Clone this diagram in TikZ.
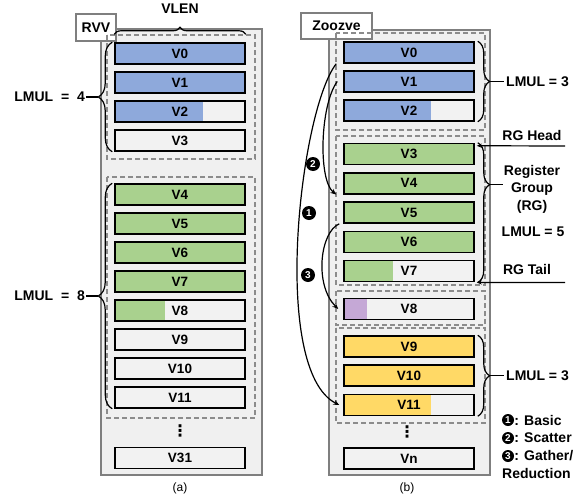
\documentclass[tikz,border=0pt]{standalone}
\usepackage{fontspec}
\setmainfont{Liberation Sans}
\newfontfamily\dotsfont{DejaVu Sans}
\usetikzlibrary{arrows.meta,positioning,decorations.pathreplacing}

\definecolor{panelbg}{HTML}{F0F0F0}
\definecolor{regbg}{HTML}{F2F2F2}
\definecolor{framegray}{HTML}{7F7F7F}
\definecolor{dashgray}{HTML}{8C8C8C}
\definecolor{regblue}{HTML}{8EA9DB}
\definecolor{reggreen}{HTML}{A9D18E}
\definecolor{regyellow}{HTML}{FFD966}
\definecolor{regpurple}{HTML}{C5A8D6}

\newcommand{\regfont}{\fontsize{13.5}{15}\selectfont\bfseries}
\newcommand{\sidefont}{\fontsize{14}{17.5}\selectfont\bfseries}

\begin{document}
\begin{tikzpicture}[
      x=1pt, y=-1pt,
      panel/.style={draw=framegray,line width=1.5pt,fill=panelbg},
      tag/.style={draw=framegray,line width=1.5pt,fill=white,inner sep=0pt,font=\sidefont},
      reg/.style={draw,line width=1.5pt,fill=regbg,minimum width=130pt,minimum height=21pt,inner sep=0pt,font=\regfont},
      part/.style 2 args={path picture={\fill[#1] (path picture bounding box.north west) rectangle ([xshift=#2]path picture bounding box.south west);}},
      grp/.style={draw=dashgray,line width=1.3pt,dash pattern=on 5pt off 3pt},
      brc/.style={decorate,decoration={brace,amplitude=#1},line width=1.2pt},
      side/.style={font=\sidefont,inner sep=1pt},
      vdts/.style={inner sep=0pt,font=\fontsize{16}{16}\selectfont\dotsfont\bfseries},
      num/.style={circle,fill=black,text=white,inner sep=0pt,minimum size=#1,font=\fontsize{10}{10}\selectfont\bfseries},
      hop/.style={line width=1.2pt,-{Stealth[length=6pt,width=5pt]}},
      ptr/.style={line width=1.2pt,-{Stealth[length=5pt,width=4pt]}}
  ]
  \useasboundingbox (0,0) rectangle (576,498);

  % ===================== (a) RVV =====================
  \draw[panel] (101,29) rectangle (262,475);
  \node[tag,minimum width=40pt,minimum height=27pt] (rvv) at (96,27.5) {RVV};

  \node[reg,fill=regblue] (rvv0) at (180,53.5) {V0};
  \node[reg,fill=regblue] (rvv1) at (180,82.5) {V1};
  \node[reg,part={regblue}{88pt}] (rvv2) at (180,111.5) {V2};
  \node[reg] (rvv3) at (180,140.5) {V3};

  \foreach \i/\y in {4/194.5,5/223.5,6/252.5,7/281.5}
    \node[reg,fill=reggreen] (rvv\i) at (180,\y) {V\i};
  \node[reg,part={reggreen}{50pt}] (rvv8) at (180,310.5) {V8};
  \foreach \i/\y in {9/339.5,10/368.5,11/397.5}
    \node[reg] (rvv\i) at (180,\y) {V\i};

  \node[vdts] (dotsa) at (180,431) {⋮};
  \node[reg] (rvv31) at (180,458) {V31};
  \node[font=\fontsize{12}{14}\selectfont] (capa) at (180,488) {(a)};

  % register groups
  \draw[grp] (107,35) rectangle (255,159);
  \draw[grp] (107,177) rectangle (255,418);

  % VLEN
  \node[side] (vlen) at (180,9) {VLEN};
  \draw[brc=7pt] ([yshift=8pt]rvv0.north west) -- ([yshift=8pt]rvv0.north east);

  % LMUL braces
  \draw[brc=14pt] ([xshift=-2pt]rvv3.south west) -- ([xshift=-2pt]rvv0.north west);
  \coordinate (tipa4) at (98,97);
  \node[side,anchor=east] (lmula4) at (86,97) {LMUL\ \ =\ \ 4};
  \draw[line width=1.2pt] (lmula4) -- (tipa4);

  \draw[brc=14pt] ([xshift=-2pt]rvv11.south west) -- ([xshift=-2pt]rvv4.north west);
  \coordinate (tipa8) at (98,296);
  \node[side,anchor=east] (lmula8) at (86,296) {LMUL\ \ =\ \ 8};
  \draw[line width=1.2pt] (lmula8) -- (tipa8);

  % ===================== (b) Zoozve =====================
  \draw[panel] (329,30) rectangle (490,475);
  \node[tag,minimum width=71pt,minimum height=26pt] (zoozve) at (336.5,26) {Zoozve};

  \node[reg,fill=regblue] (zv0) at (409,52.5) {V0};
  \node[reg,fill=regblue] (zv1) at (409,81.5) {V1};
  \node[reg,part={regblue}{87pt}] (zv2) at (409,110.5) {V2};

  \foreach \i/\y in {3/154,4/183.3,5/212.6,6/241.9}
    \node[reg,fill=reggreen] (zv\i) at (409,\y) {V\i};
  \node[reg,part={reggreen}{49pt}] (zv7) at (409,271.2) {V7};

  \node[reg,part={regpurple}{23pt}] (zv8) at (409,309) {V8};

  \node[reg,fill=regyellow] (zv9) at (409,346.5) {V9};
  \node[reg,fill=regyellow] (zv10) at (409,375.5) {V10};
  \node[reg,part={regyellow}{87pt}] (zv11) at (409,405) {V11};

  \node[vdts] (dotsb) at (407,432) {⋮};
  \node[reg] (zvn) at (409,458.5) {Vn};
  \node[font=\fontsize{12}{14}\selectfont] (capb) at (407,488) {(b)};

  % register groups
  \draw[grp] (336,33) rectangle (485,130);
  \draw[grp] (336,136) rectangle (485,285);
  \draw[grp] (336,291) rectangle (485,325);
  \draw[grp] (336,328) rectangle (485,423);

  % LMUL braces (right side)
  \draw[brc=12pt] ([xshift=3pt]zv0.north east) -- ([xshift=3pt]zv2.south east);
  \coordinate (tipb1) at (490,81.3);
  \node[side,anchor=west,inner sep=2pt] (lmulb1) at (504,81.3) {LMUL = 3};
  \draw[line width=1.2pt] (tipb1) -- (lmulb1.west);

  \draw[brc=12pt,decoration={aspect=0.3}] ([xshift=3pt]zv3.north east) -- ([xshift=3pt]zv7.south east);
  \coordinate (tiprg) at (490,184.5);
  \node[side,align=center] (rg) at (532,189) {Register\\Group\\(RG)};
  \draw[line width=1.2pt] (tiprg) -- (tiprg -| rg.west);
  \node[side] (lmulb5) at (533,232) {LMUL = 5};

  \draw[brc=12pt] ([xshift=3pt]zv9.north east) -- ([xshift=3pt]zv11.south east);
  \coordinate (tipb3) at (490,375.8);
  \node[side,anchor=west,inner sep=2pt] (lmulb3) at (504,375.8) {LMUL = 3};
  \draw[line width=1.2pt] (tipb3) -- (lmulb3.west);

  % RG head / tail
  \node[side] (rghead) at (532,135) {RG Head};
  \coordinate (headfrom) at (565,146);
  \draw[ptr] (headfrom) -- ([xshift=2pt,yshift=-3pt]zv3.north east);
  \node[side] (rgtail) at (527,269) {RG Tail};
  \coordinate (tailfrom) at (565,282.5);
  \draw[ptr] (tailfrom) -- ([xshift=2pt]zv7.south east);

  % access patterns
  \draw[hop] ([xshift=-7pt]zv0.south west) .. controls (300,110) and (270,370) .. ([xshift=-4pt]zv11.west);
  \draw[hop] ([xshift=-6pt]zv1.west) .. controls (320,105) and (318,180) .. ([xshift=-7pt]zv4.south west);
  \draw[hop] ([xshift=-4pt]zv5.south west) .. controls (320,232) and (314,285) .. ([xshift=-5pt]zv8.west);
  \node[num=14pt] (hop1) at (309,213) {1};
  \node[num=14pt] (hop2) at (313,164) {2};
  \node[num=14pt] (hop3) at (308,275) {3};

  % legend
  \node[num=12pt] (leg1) at (508,420) {1};
  \node[side,anchor=west,inner sep=0pt] (leg1txt) at (leg1.east) {: Basic};
  \node[num=12pt] (leg2) at (508,438) {2};
  \node[side,anchor=west,inner sep=0pt] (leg2txt) at (leg2.east) {: Scatter};
  \node[num=12pt] (leg3) at (508,456) {3};
  \node[side,anchor=west,inner sep=0pt] (leg3txt) at (leg3.east) {: Gather/};
  \node[side,anchor=west,inner sep=0pt] (leg3more) at (502,473) {Reduction};

\end{tikzpicture}
\end{document}
